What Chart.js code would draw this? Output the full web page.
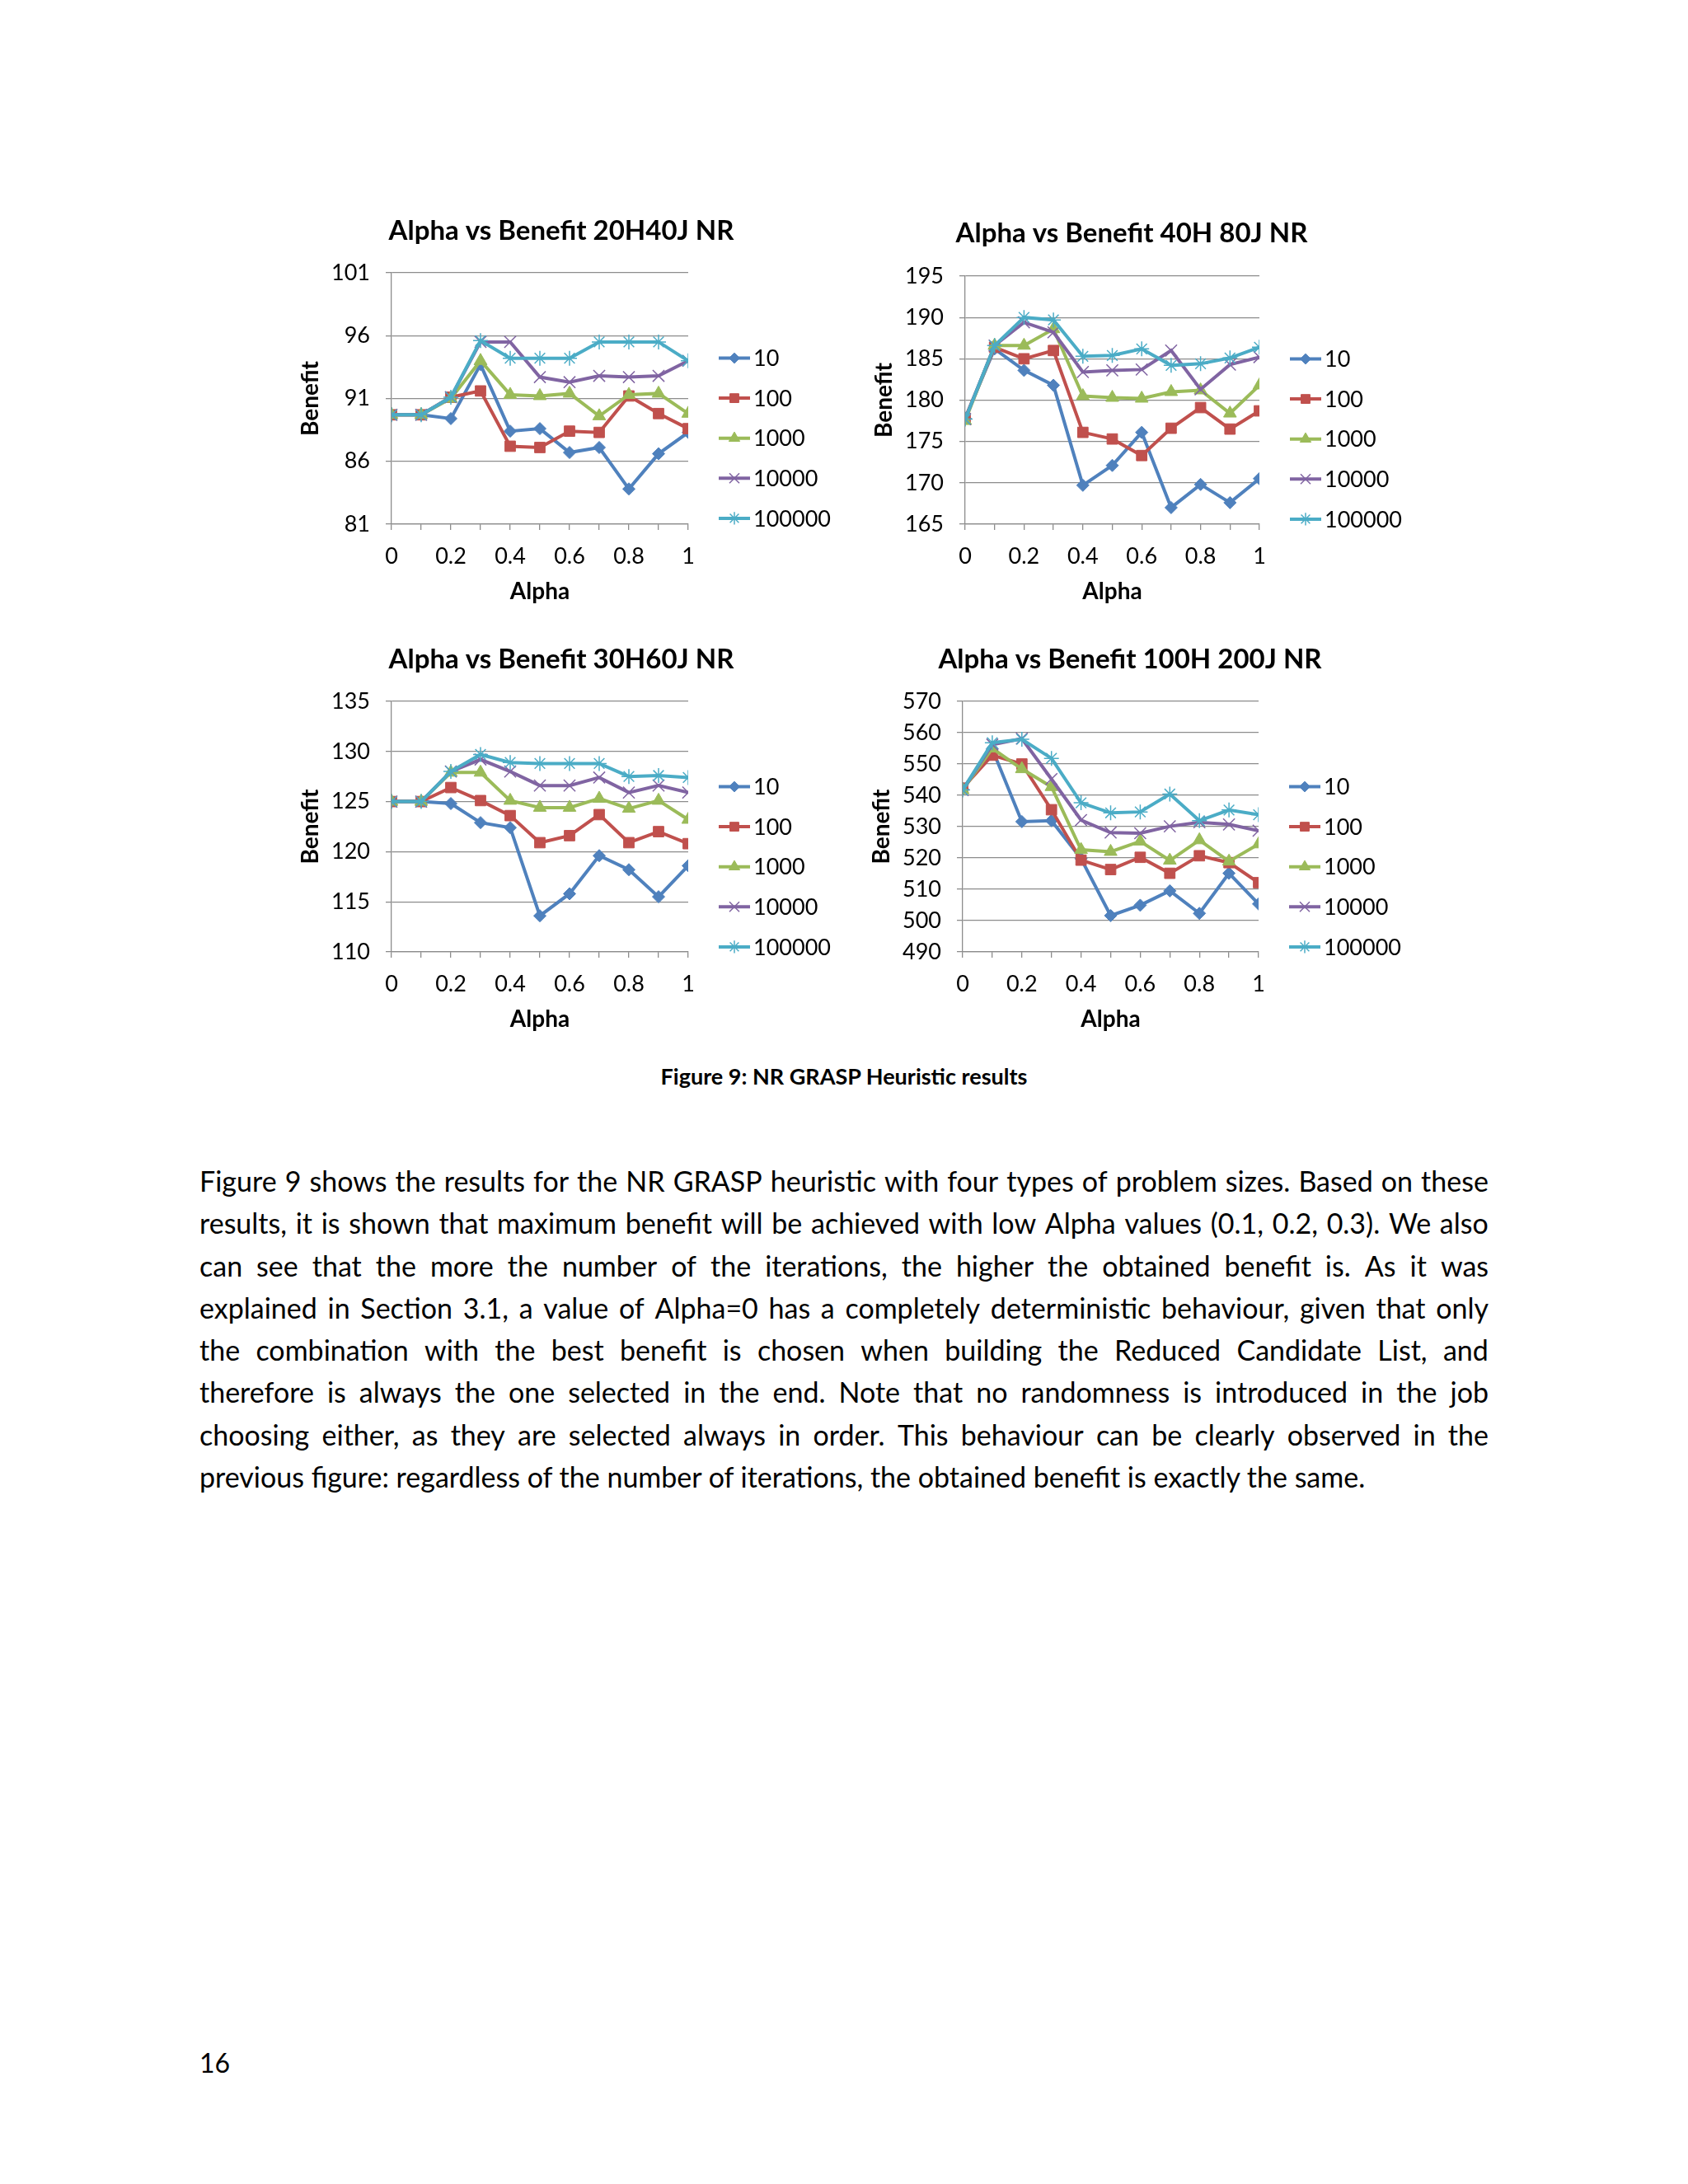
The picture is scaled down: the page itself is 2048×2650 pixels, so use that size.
<!DOCTYPE html>
<html>
<head>
<meta charset="utf-8">
<script src="https://cdn.jsdelivr.net/npm/chart.js@4.4.1/dist/chart.umd.min.js"></script>
<style>
html,body{margin:0;padding:0;background:#fff;}
#page{position:relative;width:2048px;height:2650px;overflow:hidden;font-family:Lato,"Open Sans",sans-serif;color:#000;background:#fff;}
canvas{position:absolute;}
.caption{position:absolute;left:0;width:2048px;text-align:center;top:1290px;line-height:32px;font-size:27px;font-weight:bold;}
.para{position:absolute;left:242px;width:1564px;top:1407px;font-size:34px;}
.para div{height:51.3px;line-height:51.3px;display:flex;justify-content:space-between;white-space:nowrap;}
.para div.last{justify-content:flex-start;}
.pnum{position:absolute;left:242px;top:2483px;line-height:40px;font-size:32px;}
</style>
</head>
<body>
<div id="page">
<canvas id="c1"></canvas>
<canvas id="c2"></canvas>
<canvas id="c3"></canvas>
<canvas id="c4"></canvas>
<div class="caption">Figure 9: NR GRASP Heuristic results</div>
<div class="para" id="para"></div>
<div class="pnum">16</div>
</div>
<script>
// ---------- DATA ----------
const alpha = [0, 0.1, 0.2, 0.3, 0.4, 0.5, 0.6, 0.7, 0.8, 0.9, 1];
const seriesNames = ['10', '100', '1000', '10000', '100000'];
const xTickLabels = ['0', '0.2', '0.4', '0.6', '0.8', '1'];

const titles = [
  'Alpha vs Benefit 20H40J NR',
  'Alpha vs Benefit 40H 80J NR',
  'Alpha vs Benefit 30H60J NR',
  'Alpha vs Benefit 100H 200J NR'
];

// 20H40J
const c1_10     = [89.7, 89.7, 89.4, 93.7, 88.4, 88.6, 86.7, 87.1, 83.8, 86.6, 88.3];
const c1_100    = [89.7, 89.7, 91.1, 91.6, 87.2, 87.1, 88.4, 88.3, 91.2, 89.8, 88.6];
const c1_1000   = [89.7, 89.7, 91.0, 94.0, 91.3, 91.2, 91.4, 89.6, 91.3, 91.4, 89.8];
const c1_10000  = [89.7, 89.7, 91.1, 95.5, 95.5, 92.7, 92.3, 92.8, 92.7, 92.8, 94.0];
const c1_100000 = [89.7, 89.7, 91.1, 95.6, 94.2, 94.2, 94.2, 95.5, 95.5, 95.5, 94.0];

// 40H 80J
const c2_10     = [177.8, 186.2, 183.6, 181.8, 169.7, 172.1, 176.1, 167.0, 169.8, 167.6, 170.5];
const c2_100    = [177.8, 186.4, 185.0, 186.0, 176.1, 175.3, 173.3, 176.6, 179.1, 176.5, 178.7];
const c2_1000   = [177.5, 186.6, 186.6, 188.6, 180.5, 180.3, 180.2, 181.0, 181.2, 178.4, 181.8];
const c2_10000  = [177.7, 186.6, 189.4, 188.2, 183.4, 183.6, 183.7, 186.0, 181.3, 184.3, 185.2];
const c2_100000 = [177.7, 186.6, 190.0, 189.7, 185.3, 185.4, 186.2, 184.2, 184.4, 185.1, 186.4];

// 30H60J
const c3_10     = [125.0, 125.0, 124.8, 122.9, 122.4, 113.6, 115.8, 119.6, 118.2, 115.5, 118.6];
const c3_100    = [125.0, 125.0, 126.4, 125.1, 123.6, 120.9, 121.6, 123.7, 120.9, 122.0, 120.8];
const c3_1000   = [125.0, 125.0, 127.9, 127.9, 125.1, 124.4, 124.4, 125.3, 124.3, 125.1, 123.2];
const c3_10000  = [125.0, 125.0, 128.0, 129.2, 128.0, 126.6, 126.6, 127.4, 125.9, 126.6, 125.9];
const c3_100000 = [125.0, 125.0, 128.0, 129.7, 128.9, 128.8, 128.8, 128.8, 127.5, 127.6, 127.4];

// 100H 200J
const c4_10     = [542.0, 554.8, 531.6, 531.9, 519.8, 501.6, 504.9, 509.5, 502.3, 515.1, 505.3];
const c4_100    = [542.3, 552.8, 550.0, 535.4, 519.3, 516.3, 520.2, 515.1, 520.7, 518.5, 512.1];
const c4_1000   = [541.7, 555.0, 548.4, 542.7, 522.6, 522.0, 525.3, 519.2, 525.7, 518.9, 524.4];
const c4_10000  = [541.7, 556.2, 558.1, 545.2, 532.1, 528.1, 527.9, 530.1, 531.4, 530.7, 528.7];
const c4_100000 = [541.7, 556.8, 557.9, 551.8, 537.6, 534.4, 534.7, 540.4, 531.9, 535.3, 533.8];

const yRanges = [
  {min: 81, max: 101, step: 5},
  {min: 165, max: 195, step: 5},
  {min: 110, max: 135, step: 5},
  {min: 490, max: 570, step: 10}
];

const paraLines = [
  'Figure 9 shows the results for the NR GRASP heuristic with four types of problem sizes. Based on these',
  'results, it is shown that maximum benefit will be achieved with low Alpha values (0.1, 0.2, 0.3). We also',
  'can see that the more the number of the iterations, the higher the obtained benefit is. As it was',
  'explained in Section 3.1, a value of Alpha=0 has a completely deterministic behaviour, given that only',
  'the combination with the best benefit is chosen when building the Reduced Candidate List, and',
  'therefore is always the one selected in the end. Note that no randomness is introduced in the job',
  'choosing either, as they are selected always in order. This behaviour can be clearly observed in the',
  'previous figure: regardless of the number of iterations, the obtained benefit is exactly the same.'
];

// ---------- TEXT BLOCK ----------
(function () {
  const para = document.getElementById('para');
  paraLines.forEach((line, i) => {
    const div = document.createElement('div');
    if (i === paraLines.length - 1) { div.className = 'last'; div.textContent = line; }
    else {
      line.split(' ').forEach(w => { const s = document.createElement('span'); s.textContent = w; div.appendChild(s); });
    }
    para.appendChild(div);
  });
})();

// ---------- STYLE / LAYOUT ----------
const COLORS = ['#4F81BD', '#C0504D', '#9BBB59', '#8064A2', '#4BACC6'];
const MARKERS = [
  {pointStyle: 'rectRot', pointRadius: 7.5, pointBorderWidth: 1},
  {pointStyle: 'rect', pointRadius: 9, pointBorderWidth: 1},
  {pointStyle: 'triangle', pointRadius: 9, pointBorderWidth: 1},
  {pointStyle: 'crossRot', pointRadius: 10, pointBorderWidth: 1.5},
  {pointStyle: 'star', pointRadius: 9, pointBorderWidth: 1.5}
];
const GRID = '#8c8c8c';
const FONT = 'Lato';
const XH = 100.4;

const layouts = [
  {left: 352, top: 250, width: 670, height: 500, plotLeft: 475, plotTop: 331, plotRight: 835, plotBottom: 636, titleX: 681, titleY: 280, legendTop: 103.5},
  {left: 1048, top: 250, width: 680, height: 500, plotLeft: 1171, plotTop: 335, plotRight: 1528, plotBottom: 636, titleX: 1373, titleY: 283, legendTop: 100.5},
  {left: 352, top: 770, width: 670, height: 500, plotLeft: 475, plotTop: 851, plotRight: 835, plotBottom: 1155, titleX: 681, titleY: 800, legendTop: 103.5},
  {left: 1045, top: 770, width: 690, height: 500, plotLeft: 1168, plotTop: 851, plotRight: 1527, plotBottom: 1155, titleX: 1371, titleY: 800, legendTop: 103.5}
];

const seriesByChart = [
  [c1_10, c1_100, c1_1000, c1_10000, c1_100000],
  [c2_10, c2_100, c2_1000, c2_10000, c2_100000],
  [c3_10, c3_100, c3_1000, c3_10000, c3_100000],
  [c4_10, c4_100, c4_1000, c4_10000, c4_100000]
];

const decorPlugin = {
  id: 'decor',
  afterDraw(chart, args, opts) {
    const ctx = chart.ctx;
    const a = chart.chartArea;
    ctx.save();
    ctx.fillStyle = '#000';
    ctx.font = 'bold 33px ' + FONT;
    ctx.textAlign = 'center';
    ctx.textBaseline = 'middle';
    ctx.fillText(opts.title, opts.titleX, opts.titleY);
    chart.data.datasets.forEach((ds, i) => {
      const y = a.top + opts.legendTop + i * 48.6;
      const x0 = a.right + 37, x1 = x0 + 38;
      ctx.strokeStyle = ds.borderColor;
      ctx.lineWidth = ds.borderWidth;
      ctx.beginPath(); ctx.moveTo(x0, y); ctx.lineTo(x1, y); ctx.stroke();
      ctx.fillStyle = ds.pointBackgroundColor;
      ctx.strokeStyle = ds.pointBorderColor;
      ctx.lineWidth = ds.pointBorderWidth;
      Chart.helpers.drawPoint(ctx, {pointStyle: ds.pointStyle, radius: ds.pointRadius * 0.85, rotation: 0, borderWidth: ds.pointBorderWidth}, (x0 + x1) / 2, y);
      ctx.fillStyle = '#000';
      ctx.font = '27px ' + FONT;
      ctx.textAlign = 'left';
      ctx.textBaseline = 'middle';
      ctx.fillText(ds.label, x1 + 4, y + 1);
    });
    ctx.restore();
  }
};

function makeChart(idx) {
  const L = layouts[idx];
  const canvas = document.getElementById('c' + (idx + 1));
  canvas.width = L.width; canvas.height = L.height;
  canvas.style.left = L.left + 'px'; canvas.style.top = L.top + 'px';
  canvas.style.width = L.width + 'px'; canvas.style.height = L.height + 'px';
  const yr = yRanges[idx];
  const datasets = seriesNames.map((name, i) => ({
    label: name,
    data: alpha.map((a, j) => ({x: a, y: seriesByChart[idx][i][j]})),
    borderColor: COLORS[i],
    backgroundColor: COLORS[i],
    pointBackgroundColor: COLORS[i],
    pointBorderColor: COLORS[i],
    borderWidth: 4,
    tension: 0,
    order: seriesNames.length - 1 - i,
    ...MARKERS[i]
  }));
  new Chart(canvas, {
    type: 'line',
    data: {datasets},
    options: {
      responsive: false,
      animation: false,
      devicePixelRatio: 1,
      layout: {padding: {left: 0, top: L.plotTop - L.top, right: L.left + L.width - L.plotRight, bottom: L.top + L.height - L.plotBottom - XH}},
      plugins: {
        legend: {display: false},
        tooltip: {enabled: false},
        title: {display: false},
        decor: {title: titles[idx], titleX: L.titleX - L.left, titleY: L.titleY - L.top, legendTop: L.legendTop}
      },
      scales: {
        x: {
          type: 'linear', min: 0, max: 1,
          afterFit(s) { s.height = XH; },
          ticks: {stepSize: 0.1, autoSkip: false, maxRotation: 0, minRotation: 0, padding: 15.8, color: '#000',
            font: {family: FONT, size: 27},
            callback: (v) => xTickLabels.includes(String(v)) ? String(v) : ''},
          grid: {drawOnChartArea: false, drawTicks: true, tickLength: 7, color: GRID, lineWidth: 1.3},
          border: {color: GRID, width: 1.3},
          title: {display: true, text: 'Alpha', color: '#000', font: {family: FONT, size: 28, weight: 'bold'}, padding: {top: 0, bottom: 1.6}}
        },
        y: {
          min: yr.min, max: yr.max,
          afterFit(s) { s.width = L.plotLeft - L.left; },
          ticks: {stepSize: yr.step, padding: 19, color: '#000', font: {family: FONT, size: 27}},
          grid: {color: GRID, lineWidth: 1.3, tickLength: 7, drawTicks: true},
          border: {color: GRID, width: 1.3},
          title: {display: true, text: 'Benefit', color: '#000', font: {family: FONT, size: 28, weight: 'bold'}, padding: {top: 8.2, bottom: 0}}
        }
      }
    },
    plugins: [decorPlugin]
  });
}

[0, 1, 2, 3].forEach(makeChart);
</script>
</body>
</html>
